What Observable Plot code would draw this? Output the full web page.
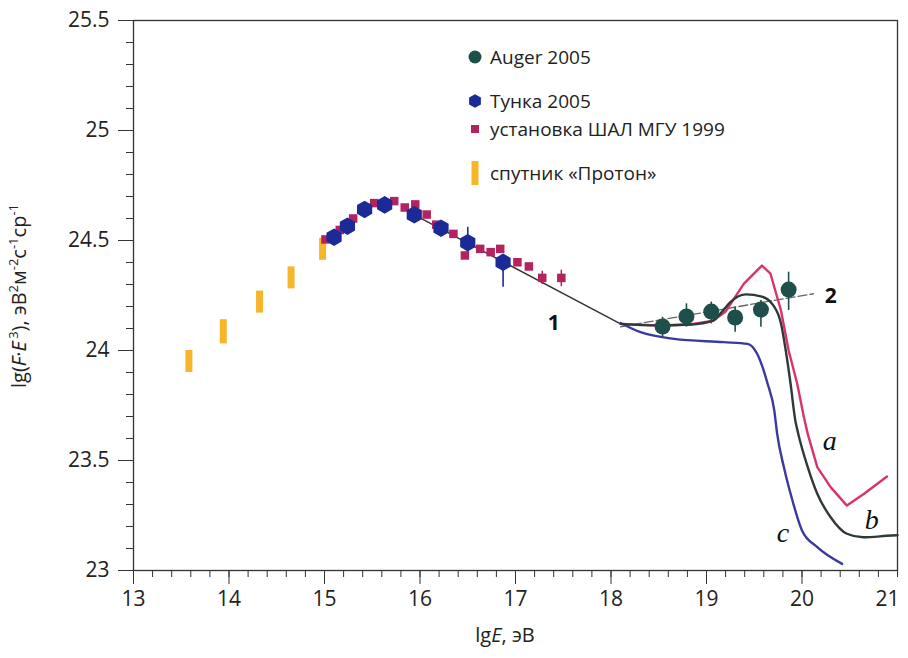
<!DOCTYPE html>
<html>
<head>
<meta charset="utf-8">
<script src="https://cdn.jsdelivr.net/npm/d3@7"></script>
<script src="https://cdn.jsdelivr.net/npm/@observablehq/plot@0.6"></script>
<style>
  body { margin: 0; background: #fff; }
  #chart { position: relative; width: 908px; height: 658px; font-family: "Open Sans", sans-serif; }
  #legend { position: absolute; left: 0; top: 0; pointer-events: none; }
</style>
</head>
<body>
<div id="chart"></div>
<script>
// Спутник «Протон»: lgE and the vertical extent of each bar
const protonX  = [13.58, 13.94, 14.32, 14.65, 14.98];
const protonLo = [23.90, 24.03, 24.17, 24.28, 24.41];
const protonHi = [24.00, 24.14, 24.27, 24.38, 24.51];

// Установка ШАЛ МГУ 1999
const msuX = [15.01, 15.16, 15.30, 15.52, 15.73, 15.84, 15.95, 16.07, 16.17, 16.35, 16.47, 16.63, 16.74, 16.84, 17.02, 17.14, 17.28, 17.48];
const msuY = [24.505, 24.548, 24.600, 24.670, 24.679, 24.650, 24.664, 24.618, 24.572, 24.530, 24.432, 24.462, 24.447, 24.462, 24.401, 24.382, 24.330, 24.330];
const msuErrX  = [17.28, 17.48];
const msuErrLo = [24.300, 24.290];
const msuErrHi = [24.360, 24.365];

// Тунка 2005
const tunkaX = [15.10, 15.24, 15.42, 15.63, 15.94, 16.22, 16.50, 16.87];
const tunkaY = [24.515, 24.565, 24.641, 24.662, 24.617, 24.556, 24.490, 24.401];
const tunkaErrX  = [16.50, 16.87];
const tunkaErrLo = [24.447, 24.288];
const tunkaErrHi = [24.560, 24.432];

// Auger 2005
const augerX  = [18.54, 18.79, 19.05, 19.30, 19.57, 19.86];
const augerY  = [24.109, 24.155, 24.177, 24.150, 24.186, 24.277];
const augerLo = [24.060, 24.106, 24.121, 24.083, 24.106, 24.182];
const augerHi = [24.151, 24.212, 24.220, 24.197, 24.227, 24.356];

// Line 1: power-law fit
const line1X = [15.94, 18.10];
const line1Y = [24.617, 24.121];

// Line 2: fit through the Auger points
const line2X = [18.10, 20.12];
const line2Y = [24.108, 24.258];

// Model curves a, b, c
const curveAX = [18.10, 18.48, 18.83, 19.07, 19.20, 19.39, 19.58, 19.67, 19.78, 19.86, 19.95, 20.02, 20.06, 20.16, 20.30, 20.47, 20.65, 20.89];
const curveAY = [24.121, 24.114, 24.118, 24.136, 24.177, 24.303, 24.386, 24.349, 24.182, 24.000, 23.849, 23.697, 23.621, 23.470, 23.379, 23.295, 23.349, 23.427];

const curveBX = [18.10, 18.48, 18.83, 19.07, 19.15, 19.25, 19.41, 19.58, 19.70, 19.78, 19.83, 19.88, 19.93, 19.96, 20.06, 20.16, 20.30, 20.47, 20.64, 20.94, 21.00];
const curveBY = [24.121, 24.114, 24.118, 24.136, 24.170, 24.220, 24.255, 24.245, 24.205, 24.123, 24.000, 23.850, 23.682, 23.623, 23.470, 23.349, 23.242, 23.167, 23.151, 23.159, 23.160];

const curveCX = [18.10, 18.31, 18.66, 19.18, 19.43, 19.53, 19.64, 19.71, 19.74, 19.81, 19.90, 20.00, 20.16, 20.42];
const curveCY = [24.125, 24.083, 24.053, 24.038, 24.030, 23.985, 23.849, 23.727, 23.621, 23.470, 23.318, 23.182, 23.106, 23.030];

// Curve and line labels
const curveLabels = [
  {t: "a", x: 20.29, y: 23.59},
  {t: "b", x: 20.73, y: 23.23},
  {t: "c", x: 19.80, y: 23.17}
];
const lineLabels = [
  {t: "1", x: 17.40, y: 24.125},
  {t: "2", x: 20.30, y: 24.245}
];

// Axis ticks
const xTicks = [13, 14, 15, 16, 17, 18, 19, 20];
const xTickLast = [21];
const yTicks = [23, 23.5, 24, 24.5, 25, 25.5];

const colors = {
  auger: "#1f4f4a",
  tunka: "#1b2a96",
  msu: "#b3235f",
  proton: "#f7b52a",
  a: "#d9336e",
  b: "#2f3a37",
  c: "#3a3a9e",
  fit: "#333333"
};

const xMinor = d3.range(0, 41).map(i => 13 + i * 0.2);
const yMinor = d3.range(0, 26).map(i => 23 + i * 0.1);
const idx = a => a.map((_, i) => i);

const chart = Plot.plot({
  width: 908,
  height: 658,
  marginLeft: 133,
  marginRight: 11,
  marginTop: 20,
  marginBottom: 88,
  style: { fontFamily: "Open Sans, sans-serif", fontSize: "21px", color: "#222", background: "#fff" },
  x: { domain: [13, 21] },
  y: { domain: [23, 25.5] },
  marks: [
    Plot.frame({ stroke: "#333", strokeWidth: 1.3 }),
    Plot.axisX(xMinor, { tickSize: 7, tickFormat: () => "", label: null, stroke: "#333" }),
    Plot.axisX(xTicks, { tickSize: 14, tickPadding: 7, tickFormat: d => String(d), label: null, stroke: "#333", fontSize: 21 }),
    Plot.axisX(xTickLast, { tickSize: 0, tickPadding: 21, tickFormat: d => String(d), label: null, dx: -10, fontSize: 21 }),
    Plot.axisY(yMinor, { tickSize: 7, tickFormat: () => "", label: null, stroke: "#333" }),
    Plot.axisY(yTicks, { tickSize: 15, tickPadding: 9, tickFormat: d => String(d), label: null, stroke: "#333", fontSize: 21 }),

    // Спутник «Протон» bars
    Plot.ruleX(idx(protonX), { x: i => protonX[i], y1: i => protonLo[i], y2: i => protonHi[i], stroke: colors.proton, strokeWidth: 7 }),

    // Fit lines
    Plot.line(idx(line1X), { x: i => line1X[i], y: i => line1Y[i], stroke: colors.fit, strokeWidth: 1.4 }),
    Plot.line(idx(line2X), { x: i => line2X[i], y: i => line2Y[i], stroke: "#666", strokeWidth: 1.3, strokeDasharray: "9,3" }),

    // Model curves
    Plot.line(idx(curveCX), { x: i => curveCX[i], y: i => curveCY[i], stroke: colors.c, strokeWidth: 2.4, curve: "monotone-x" }),
    Plot.line(idx(curveAX), { x: i => curveAX[i], y: i => curveAY[i], stroke: colors.a, strokeWidth: 2.4, curve: "linear" }),
    Plot.line(idx(curveBX), { x: i => curveBX[i], y: i => curveBY[i], stroke: colors.b, strokeWidth: 2.4, curve: "monotone-x" }),

    // МГУ squares with error bars
    Plot.ruleX(idx(msuErrX), { x: i => msuErrX[i], y1: i => msuErrLo[i], y2: i => msuErrHi[i], stroke: colors.msu, strokeWidth: 1.5 }),
    Plot.dot(idx(msuX), { x: i => msuX[i], y: i => msuY[i], symbol: "square", r: 4.8, fill: colors.msu, stroke: "none" }),

    // Тунка hexagons with error bars
    Plot.ruleX(idx(tunkaErrX), { x: i => tunkaErrX[i], y1: i => tunkaErrLo[i], y2: i => tunkaErrHi[i], stroke: colors.tunka, strokeWidth: 1.6 }),
    Plot.dot(idx(tunkaX), { x: i => tunkaX[i], y: i => tunkaY[i], symbol: "hexagon", r: 7.6, fill: colors.tunka, stroke: "none" }),

    // Auger circles with error bars
    Plot.ruleX(idx(augerX), { x: i => augerX[i], y1: i => augerLo[i], y2: i => augerHi[i], stroke: colors.auger, strokeWidth: 1.6 }),
    Plot.dot(idx(augerX), { x: i => augerX[i], y: i => augerY[i], r: 8, fill: colors.auger, stroke: "none" }),

    // Labels
    Plot.text(curveLabels, { x: "x", y: "y", text: "t", fontFamily: "Liberation Serif, serif", fontStyle: "italic", fontSize: 28, fill: "#111" }),
    Plot.text(lineLabels, { x: "x", y: "y", text: "t", fontWeight: "bold", fontSize: 21, fill: "#111" })
  ]
});

const root = document.getElementById("chart");
root.appendChild(chart);

// Axis titles with italic variables and superscripts
const svg = d3.select(chart);
const yl = svg.append("text")
  .attr("transform", "translate(26,296) rotate(-90)")
  .attr("text-anchor", "middle")
  .attr("font-size", 20)
  .attr("fill", "#222");
yl.append("tspan").text("lg(");
yl.append("tspan").attr("font-style", "italic").text("F");
yl.append("tspan").text("·");
yl.append("tspan").attr("font-style", "italic").text("E");
yl.append("tspan").attr("font-size", 13).attr("dy", -8).text("\u2009" + "3");
yl.append("tspan").attr("dy", 8).text("), эВ");
yl.append("tspan").attr("font-size", 13).attr("dy", -8).text("2");
yl.append("tspan").attr("dy", 8).text("м");
yl.append("tspan").attr("font-size", 13).attr("dy", -8).text("-2");
yl.append("tspan").attr("dy", 8).text("с");
yl.append("tspan").attr("font-size", 13).attr("dy", -8).text("-1");
yl.append("tspan").attr("dy", 8).text("ср");
yl.append("tspan").attr("font-size", 13).attr("dy", -8).text("-1");

const xl = svg.append("text")
  .attr("x", 505).attr("y", 642)
  .attr("text-anchor", "middle")
  .attr("font-size", 20)
  .attr("fill", "#222");
xl.append("tspan").text("lg");
xl.append("tspan").attr("font-style", "italic").text("E");
xl.append("tspan").text(", эВ");

// Legend
const legendItems = [
  { key: "auger", label: "Auger 2005" },
  { key: "tunka", label: "Тунка 2005" },
  { key: "msu", label: "установка ШАЛ МГУ 1999" },
  { key: "proton", label: "спутник «Протон»" }
];
const legendRowY = [57, 101, 129, 173];
const lg = d3.select(root).append("svg")
  .attr("id", "legend").attr("width", 908).attr("height", 658)
  .style("font-family", "Open Sans, sans-serif");
legendItems.forEach((d, i) => {
  const cy = legendRowY[i];
  const g = lg.append("g").attr("transform", `translate(475,${cy})`);
  if (d.key === "auger") g.append("circle").attr("r", 6.5).attr("fill", colors.auger);
  if (d.key === "tunka") {
    const r = 6.8;
    const pts = d3.range(6).map(k => [r * Math.cos(Math.PI / 3 * k + Math.PI / 6), r * Math.sin(Math.PI / 3 * k + Math.PI / 6)]);
    g.append("polygon").attr("points", pts.map(p => p.join(",")).join(" ")).attr("fill", colors.tunka);
  }
  if (d.key === "msu") g.append("rect").attr("x", -4).attr("y", -4).attr("width", 8).attr("height", 8).attr("fill", colors.msu);
  if (d.key === "proton") g.append("rect").attr("x", -3.5).attr("y", -12).attr("width", 7).attr("height", 24).attr("fill", colors.proton);
  lg.append("text").attr("x", 490).attr("y", cy).attr("dy", "0.35em")
    .attr("font-size", 19).attr("fill", "#222").text(d.label);
});
</script>
</body>
</html>
